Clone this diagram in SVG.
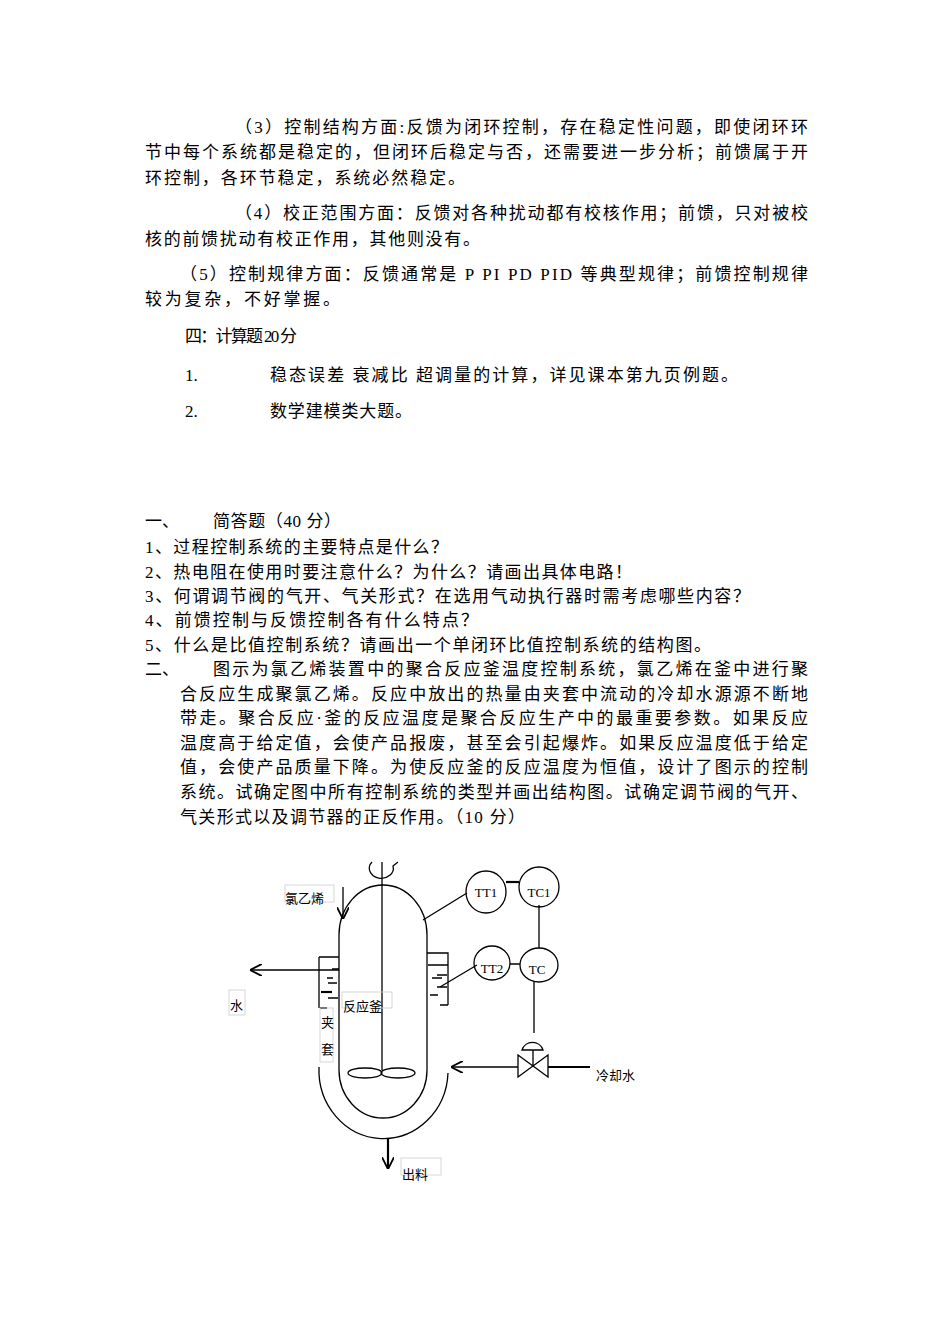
<svg xmlns="http://www.w3.org/2000/svg" width="950" height="1344" viewBox="0 0 950 1344">
<defs>
<style>
.t{font-family:"Liberation Serif","Noto Sans CJK SC",serif;font-size:17px;fill:#000}
.s{font-family:"Liberation Serif","Noto Sans CJK SC",serif;font-size:13px;fill:#000}
.l{fill:none;stroke:#000;stroke-width:1.3}
.k{fill:none;stroke:#000;stroke-width:2.2}
.b{fill:none;stroke:#ccc;stroke-width:0.8}
</style>
<marker id="a" viewBox="0 0 10 10" refX="9" refY="5" markerWidth="12" markerHeight="12" markerUnits="userSpaceOnUse" orient="auto"><path d="M0,0 L10,5 L0,10" fill="none" stroke="#000" stroke-width="1.5"/></marker>
</defs>
<rect width="950" height="1344" fill="#fff"/>
<g id="text">
<text class="t" x="235" y="133" textLength="573" lengthAdjust="spacing">（3）控制结构方面:反馈为闭环控制，存在稳定性问题，即使闭环环</text>
<text class="t" x="145" y="158" textLength="663" lengthAdjust="spacing">节中每个系统都是稳定的，但闭环后稳定与否，还需要进一步分析；前馈属于开</text>
<text class="t" x="145" y="184" textLength="320" lengthAdjust="spacing">环控制，各环节稳定，系统必然稳定。</text>
<text class="t" x="235" y="219" textLength="573" lengthAdjust="spacing">（4）校正范围方面：反馈对各种扰动都有校核作用；前馈，只对被校</text>
<text class="t" x="145" y="245" textLength="335" lengthAdjust="spacing">核的前馈扰动有校正作用，其他则没有。</text>
<text class="t" x="180" y="280" textLength="628" lengthAdjust="spacing">（5）控制规律方面：反馈通常是 P PI PD PID 等典型规律；前馈控制规律</text>
<text class="t" x="145" y="305" textLength="195" lengthAdjust="spacing">较为复杂，不好掌握。</text>
<text class="t" x="185" y="342" textLength="112" lengthAdjust="spacing">四：计算题 20 分</text>
<text class="t" x="185" y="381">1.</text>
<text class="t" x="270" y="381" textLength="468" lengthAdjust="spacing">稳态误差 衰减比 超调量的计算，详见课本第九页例题。</text>
<text class="t" x="185" y="417">2.</text>
<text class="t" x="270" y="417" textLength="142" lengthAdjust="spacing">数学建模类大题。</text>
<text class="t" x="145" y="527">一、</text>
<text class="t" x="213" y="527" textLength="128" lengthAdjust="spacing">简答题（40 分）</text>
<text class="t" x="145" y="553" textLength="303" lengthAdjust="spacing">1、过程控制系统的主要特点是什么？</text>
<text class="t" x="145" y="578" textLength="487" lengthAdjust="spacing">2、热电阻在使用时要注意什么？为什么？请画出具体电路！</text>
<text class="t" x="145" y="602" textLength="605" lengthAdjust="spacing">3、何谓调节阀的气开、气关形式？在选用气动执行器时需考虑哪些内容？</text>
<text class="t" x="145" y="626" textLength="333" lengthAdjust="spacing">4、前馈控制与反馈控制各有什么特点？</text>
<text class="t" x="145" y="651" textLength="566" lengthAdjust="spacing">5、什么是比值控制系统？请画出一个单闭环比值控制系统的结构图。</text>
<text class="t" x="145" y="675">二、</text>
<text class="t" x="213" y="675" textLength="595" lengthAdjust="spacing">图示为氯乙烯装置中的聚合反应釜温度控制系统，氯乙烯在釜中进行聚</text>
<text class="t" x="180" y="700" textLength="628" lengthAdjust="spacing">合反应生成聚氯乙烯。反应中放出的热量由夹套中流动的冷却水源源不断地</text>
<text class="t" x="180" y="724" textLength="628" lengthAdjust="spacing">带走。聚合反应·釜的反应温度是聚合反应生产中的最重要参数。如果反应</text>
<text class="t" x="180" y="749" textLength="628" lengthAdjust="spacing">温度高于给定值，会使产品报废，甚至会引起爆炸。如果反应温度低于给定</text>
<text class="t" x="180" y="773" textLength="628" lengthAdjust="spacing">值，会使产品质量下降。为使反应釜的反应温度为恒值，设计了图示的控制</text>
<text class="t" x="180" y="798" textLength="628" lengthAdjust="spacing">系统。试确定图中所有控制系统的类型并画出结构图。试确定调节阀的气开、</text>
<text class="t" x="180" y="823" textLength="345" lengthAdjust="spacing">气关形式以及调节器的正反作用。（10 分）</text>
</g>
<g id="vessel">
<path class="l" d="M339,1070 L339,935 A44,50 0 0 1 427,935 L427,1070 A44,48 0 0 1 339,1070"/>
<path class="l" d="M319,1067 A64,68 0 0 0 448,1073"/>
<path class="l" d="M319,957 L319,1008 M319,957 L339,957 M427,953 L448,953 L448,1005"/>
<path class="l" d="M332,969 L339,969 M327,978 L333,978 M328,983 L337,983 M322,992 L331,992 M328,998 L338,998 M320,1008 L327,1008"/>
<path class="k" d="M321,992 L332,992"/>
<path class="l" d="M428,965 L448,965 M437,975 L447,975 M432,978 L442,978 M437,987 L447,987 M430,995 L438,995 M440,1005 L448,1005"/>
<path class="l" d="M382,862 L382,1070"/>
<path class="l" d="M372,862 A12,10 0 1 0 393,866 L398,862"/>
<ellipse class="l" cx="365" cy="1073" rx="17" ry="5"/>
<ellipse class="l" cx="398" cy="1073" rx="17" ry="5"/>
</g>
<g id="instruments">
<ellipse class="l" cx="486" cy="892" rx="20" ry="21"/>
<text class="s" x="486" y="897" text-anchor="middle">TT1</text>
<ellipse class="l" cx="539" cy="887" rx="20" ry="20"/>
<text class="s" x="539" y="897" text-anchor="middle">TC1</text>
<ellipse class="l" cx="492" cy="963" rx="18" ry="17"/>
<text class="s" x="492" y="973" text-anchor="middle">TT2</text>
<ellipse class="l" cx="539" cy="965" rx="19" ry="17"/>
<text class="s" x="537" y="974" text-anchor="middle">TC</text>
<path class="l" d="M522,1050 A11,11 0 0 1 543,1050 Z M533,1050 L533,1066 M518,1055 L548,1077 L548,1055 L518,1077 Z"/>
</g>
<g id="connectors">
<path class="k" d="M506,882 L519,882"/>
<path class="l" d="M467,893 L423,920 M477,965 L440,987 M510,964 L520,964 M539,905 L539,948 M534,981 L534,1033"/>
<path class="k" d="M548,1067 L590,1067"/>
<path class="l" d="M518,1067 L452,1067" marker-end="url(#a)"/>
<path class="l" d="M343,887 L343,918" marker-end="url(#a)"/>
<path class="l" d="M339,970 L251,970" marker-end="url(#a)"/>
<path class="k" d="M388,1138 L388,1168" marker-end="url(#a)"/>
</g>
<g id="labels">
<rect class="b" x="285" y="885" width="49" height="17"/>
<text class="s" x="285" y="903">氯乙烯</text>
<rect class="b" x="229" y="990" width="16" height="25"/>
<text class="s" x="230" y="1010">水</text>
<rect class="b" x="342" y="992" width="50" height="16"/>
<text class="s" x="343" y="1011">反应釜</text>
<rect class="b" x="320" y="1008" width="13" height="54"/>
<text class="s" x="321" y="1027">夹</text>
<text class="s" x="321" y="1054">套</text>
<rect class="b" x="401" y="1158" width="40" height="17"/>
<text class="s" x="402" y="1179">出料</text>
<text class="s" x="596" y="1080">冷却水</text>
</g>
</svg>
